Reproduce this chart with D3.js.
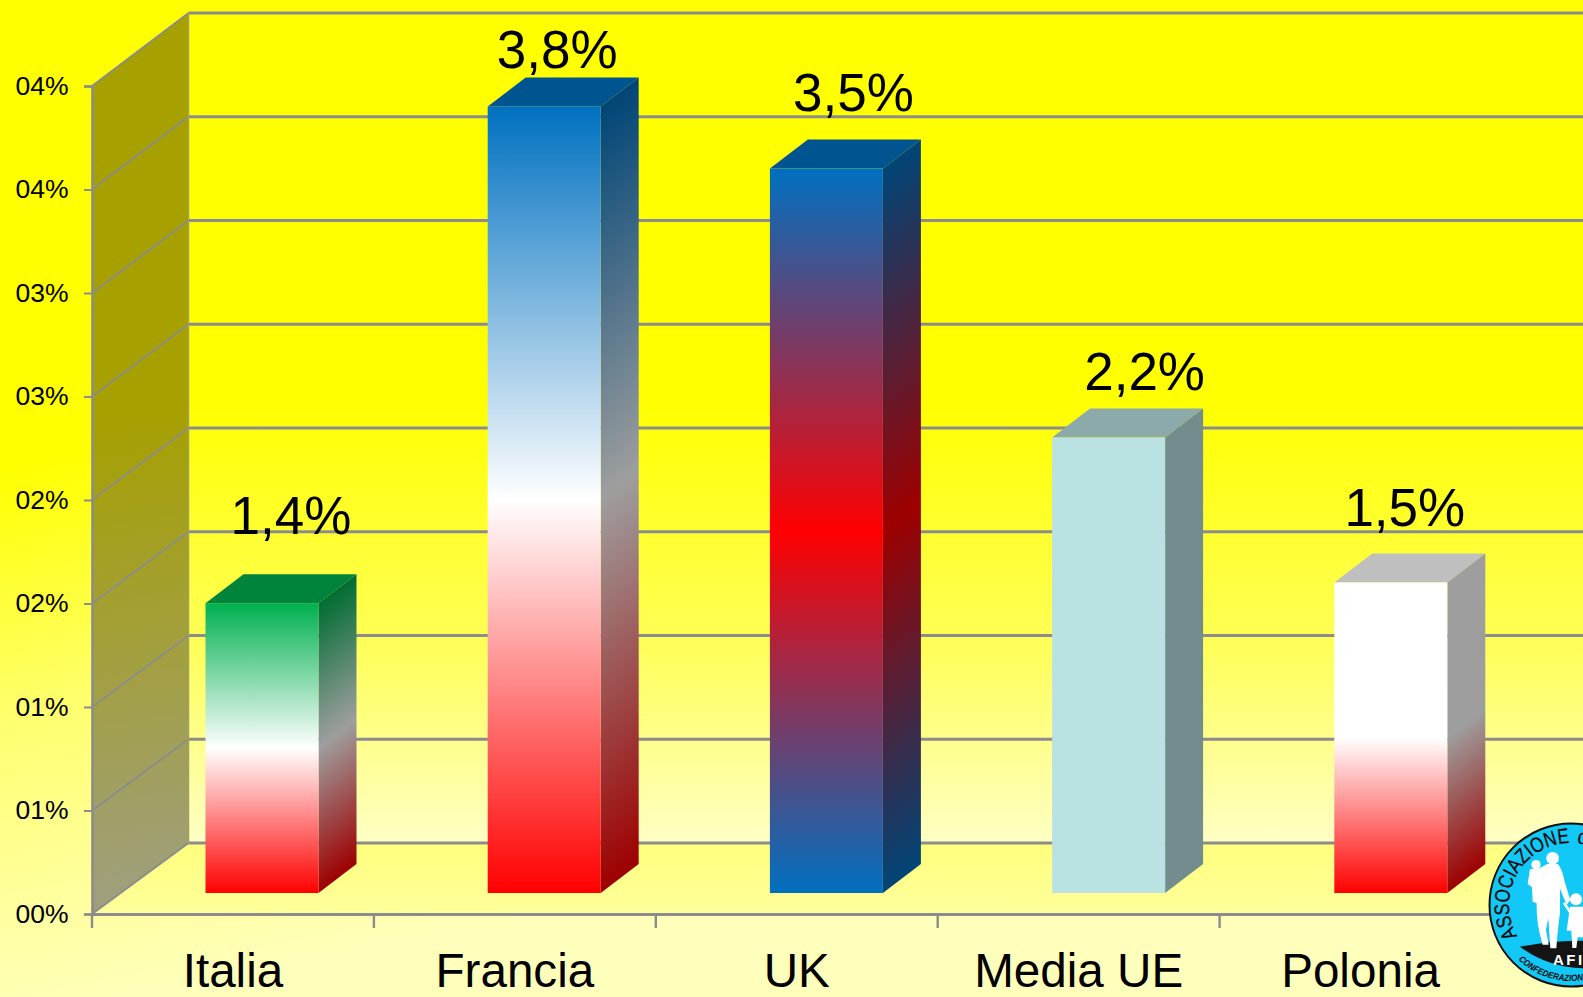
<!DOCTYPE html>
<html lang="it">
<head>
<meta charset="utf-8">
<title>Italia, Francia, UK, Media UE, Polonia</title>
<script src="https://cdn.jsdelivr.net/npm/d3@7"></script>
<style>
  html, body { margin: 0; padding: 0; background: #ffffb8; overflow: hidden; }
  svg { display: block; font-family: "Liberation Sans", Arial, sans-serif; }
</style>
</head>
<body>
<svg id="chart" width="1583" height="997" viewBox="0 0 1583 997"></svg>
<script>
// Chart data
const categories = ["Italia", "Francia", "UK", "Media UE", "Polonia"];
const values = [1.4, 3.8, 3.5, 2.2, 1.5];
const valueLabels = ["1,4%", "3,8%", "3,5%", "2,2%", "1,5%"];
const tickValues = [0, 0.5, 1, 1.5, 2, 2.5, 3, 3.5, 4];
const tickLabels = ["00%", "01%", "01%", "02%", "02%", "03%", "03%", "04%", "04%"];

// Colour stops of each column, top to bottom
const barStops = [
  [[0, "#00b050"], [0.5, "#ffffff"], [1, "#ff0000"]],
  [[0, "#0070c0"], [0.5, "#ffffff"], [1, "#ff0000"]],
  [[0, "#0070c0"], [0.5, "#ff0000"], [1, "#0070c0"]],
  [[0, "#bae2e3"], [1, "#bae2e3"]],
  [[0, "#ffffff"], [0.5, "#ffffff"], [1, "#ff0000"]]
];

// Hand placement of the value labels relative to the column centre and top
const labelShift = [[29, -69], [13, -38], [27, -58], [36, -48], [14, -57]];

// Layout
const W = 1583, H = 997;
const plot = { left: 92, right: 1501.5, bottom: 914, top: 86 };
const back = { left: 188.5, right: 1597, bottom: 843, top: 13 };
const column = { width: 113, dx: 38, dy: -29, shiftY: -21 };
const gridColor = "#8c8c8c";

const x = d3.scaleBand().domain(categories).range([plot.left, plot.right]);
const y = d3.scaleLinear().domain([0, 4]).range([plot.bottom, plot.top]);
const yBack = d3.scaleLinear().domain([0, 4]).range([back.bottom, back.top]);
const xColumn = d3.scaleBand().domain(categories).range([120.9, 1531.9]);

const svg = d3.select("#chart");
const defs = svg.append("defs");

function linear(id, attrs, stops) {
  const g = defs.append("linearGradient").attr("id", id).attr("gradientUnits", "userSpaceOnUse");
  Object.entries(attrs).forEach(([k, v]) => g.attr(k, v));
  stops.forEach(([o, c]) => g.append("stop").attr("offset", o).attr("stop-color", c));
  return g;
}
const poly = pts => "M" + pts.map(p => p.join(",")).join("L") + "Z";

linear("pageFill", { x1: 0, y1: 470, x2: 110, y2: 1010 }, [[0, "#ffff00"], [0.45, "#ffff70"], [1, "#ffffbc"]]);
linear("backFill", { x1: 0, y1: 400, x2: 0, y2: 843 }, [[0, "#ffff00"], [0.55, "#ffff58"], [1, "#ffffc4"]]);
linear("floorFill", { x1: 0, y1: 843, x2: 0, y2: 914 }, [[0, "#ffff7c"], [1, "#ffff9c"]]);
linear("leftFill", { x1: 92, y1: 420, x2: 170, y2: 900 }, [[0, "#a6a000"], [1, "#9f9f80"]]);

// Page and box walls
svg.append("rect").attr("width", W).attr("height", H).attr("fill", "url(#pageFill)");

svg.append("path")
  .attr("d", poly([[back.left, back.top], [back.right, back.top], [back.right, back.bottom], [back.left, back.bottom]]))
  .attr("fill", "url(#backFill)");
svg.append("path")
  .attr("d", poly([[plot.left, plot.bottom], [back.left, back.bottom], [back.right, back.bottom], [plot.right, plot.bottom]]))
  .attr("fill", "url(#floorFill)");
svg.append("path")
  .attr("d", poly([[plot.left, plot.bottom], [plot.left, plot.top], [back.left, back.top], [back.left, back.bottom]]))
  .attr("fill", "url(#leftFill)");

// Grid lines: along the back wall, then down the left wall
const grid = svg.append("g").attr("fill", "none").attr("stroke", gridColor);
grid.selectAll("line.back").data(tickValues).join("line").attr("class", "back")
  .attr("x1", back.left).attr("x2", back.right)
  .attr("y1", d => yBack(d)).attr("y2", d => yBack(d))
  .attr("stroke-width", 2.8);
grid.selectAll("line.side").data(tickValues).join("line").attr("class", "side")
  .attr("x1", plot.left).attr("x2", back.left)
  .attr("y1", d => y(d)).attr("y2", d => yBack(d))
  .attr("stroke-width", 1.9);
grid.append("line").attr("x1", back.left).attr("x2", back.left)
  .attr("y1", back.top).attr("y2", back.bottom)
  .attr("stroke", "#a0a060").attr("stroke-width", 1.5);

// Axes
const yAxis = svg.append("g").attr("transform", `translate(${plot.left},0)`)
  .call(d3.axisLeft(y).tickValues(tickValues).tickFormat((d, i) => tickLabels[i]).tickSize(8).tickPadding(15.5));
yAxis.select(".domain").attr("stroke", gridColor).attr("stroke-width", 2.6);
yAxis.selectAll(".tick line").attr("stroke", gridColor).attr("stroke-width", 2);
yAxis.selectAll(".tick text")
  .attr("font-family", '"Liberation Sans", Arial, sans-serif').attr("font-size", 26.5).attr("fill", "#000")
  .attr("dy", "0.32em");

const xAxis = svg.append("g").attr("transform", `translate(0,${plot.bottom})`)
  .call(d3.axisBottom(x).tickSize(0).tickPadding(39));
xAxis.select(".domain").attr("stroke", gridColor).attr("stroke-width", 2.8);
xAxis.selectAll(".tick text")
  .attr("font-family", '"Liberation Sans", Arial, sans-serif').attr("font-size", 47.6).attr("fill", "#000");
xAxis.selectAll("line.boundary")
  .data(d3.range(categories.length + 1))
  .join("line").attr("class", "boundary")
  .attr("x1", i => plot.left + i * x.step()).attr("x2", i => plot.left + i * x.step())
  .attr("y1", 0).attr("y2", 14)
  .attr("stroke", gridColor).attr("stroke-width", 2.4);

// Columns
const rows = categories.map((name, i) => {
  const x0 = xColumn(name) + xColumn.bandwidth() / 2 - column.width / 2;
  return {
    name, i, x0, x1: x0 + column.width,
    top: y(values[i]) + column.shiftY,
    base: y(0) + column.shiftY
  };
});

const shade = (c, k) => { const r = d3.rgb(c); return d3.rgb(r.r * k, r.g * k, r.b * k).formatHex(); };
rows.forEach(r => {
  linear(`front${r.i}`, { x1: 0, y1: r.top, x2: 0, y2: r.base }, barStops[r.i]);
  // Side face: bands follow the receding edge of the column
  linear(`side${r.i}`, { x1: r.x1, y1: r.top, x2: r.x1, y2: r.base },
    barStops[r.i].map(([o, c]) => [o, shade(c, 0.62)]))
    .attr("gradientTransform",
      `translate(${r.x1},0) skewY(${Math.atan2(column.dy, column.dx) * 180 / Math.PI}) translate(${-r.x1},0)`);
});

const bars = svg.append("g").selectAll("g").data(rows).join("g");
bars.append("path")
  .attr("d", r => poly([[r.x0, r.top], [r.x0 + column.dx, r.top + column.dy], [r.x1 + column.dx, r.top + column.dy], [r.x1, r.top]]))
  .attr("fill", r => shade(barStops[r.i][0][1], 0.75));
bars.append("path")
  .attr("d", r => poly([[r.x1, r.top], [r.x1 + column.dx, r.top + column.dy], [r.x1 + column.dx, r.base + column.dy], [r.x1, r.base]]))
  .attr("fill", r => `url(#side${r.i})`);
bars.append("rect")
  .attr("x", r => r.x0).attr("y", r => r.top)
  .attr("width", column.width).attr("height", r => r.base - r.top)
  .attr("fill", r => `url(#front${r.i})`);

// Value labels
svg.append("g").selectAll("text").data(rows).join("text")
  .attr("x", r => (r.x0 + r.x1) / 2 + labelShift[r.i][0])
  .attr("y", r => r.top + labelShift[r.i][1])
  .attr("text-anchor", "middle").attr("font-size", 53).attr("fill", "#000")
  .text(r => valueLabels[r.i]);

// Association badge in the lower right corner
const badge = svg.append("g").attr("transform", "translate(1571,905)");
badge.append("circle").attr("r", 81.5).attr("fill", "#12c8f6").attr("stroke", "#111").attr("stroke-width", 2);
const rad = a => a * Math.PI / 180;
const onCircle = (r, a) => [r * Math.sin(rad(a)), -r * Math.cos(rad(a))];
const arcPath = (r, a0, a1, sweep) => {
  const p0 = onCircle(r, a0), p1 = onCircle(r, a1);
  return `M${p0[0]},${p0[1]}A${r},${r} 0 ${Math.abs(a1 - a0) > 180 ? 1 : 0} ${sweep} ${p1[0]},${p1[1]}`;
};
defs.append("path").attr("id", "badgeTop").attr("d", arcPath(62, -120, 0, 1));
defs.append("path").attr("id", "badgeTopEnd").attr("d", arcPath(62, 5, 45, 1));
defs.append("path").attr("id", "badgeBottom").attr("d", arcPath(76, -136, 60, 0).replace(/A.*/, "") + "A76,76 0 0 0 " + onCircle(76, 60).join(","));

badge.append("text").attr("font-size", 21).attr("fill", "#0a0a0a")
  .attr("stroke", "#0a0a0a").attr("stroke-width", 0.3)
  .append("textPath").attr("href", "#badgeTop")
  .attr("textLength", 128).attr("lengthAdjust", "spacingAndGlyphs").text("ASSOCIAZIONE");
badge.append("text").attr("font-size", 21).attr("fill", "#0a0a0a")
  .append("textPath").attr("href", "#badgeTopEnd").text("d");

const figure = badge.append("g").attr("transform", "translate(-131,-115) scale(0.3333)");
figure.append("path").attr("d", "M240,470Q330,452 429,452L429,535Q320,532 240,470Z").attr("fill", "#141414");
figure.append("circle").attr("cx", 338).attr("cy", 205).attr("r", 19).attr("fill", "#fff");
figure.append("circle").attr("cx", 288).attr("cy", 224).attr("r", 14).attr("fill", "#fff");
figure.append("circle").attr("cx", 408).attr("cy", 328).attr("r", 18).attr("fill", "#fff");
figure.append("path").attr("fill", "#fff")
  .attr("d", "M322,222L354,222Q368,240 374,275L391,330L380,344L360,296L360,370Q354,410 349,475L331,475L325,385L318,420L326,464L308,464Q288,400 290,340L278,335L276,292L263,282L270,238L300,234Z");
figure.append("path").attr("fill", "#fff")
  .attr("d", "M390,350L432,350L432,442L413,442L409,474L397,474L394,422L380,422Z");
figure.append("line").attr("x1", 372).attr("y1", 338).attr("x2", 394).attr("y2", 372)
  .attr("stroke", "#fff").attr("stroke-width", 8);
badge.append("text").attr("x", -18).attr("y", 60).attr("font-size", 15).attr("font-weight", 700)
  .attr("letter-spacing", 2.5).attr("fill", "#fff").text("AFI");
badge.append("text").attr("font-size", 9).attr("font-weight", 700).attr("font-style", "italic").attr("fill", "#0a0a0a")
  .append("textPath").attr("href", "#badgeBottom")
  .attr("textLength", 76).attr("lengthAdjust", "spacingAndGlyphs").text("CONFEDERAZIONE");
</script>
</body>
</html>
